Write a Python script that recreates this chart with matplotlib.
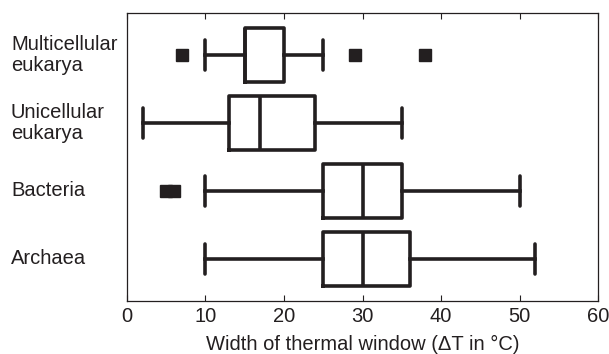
import matplotlib
matplotlib.use("Agg")
import matplotlib.pyplot as plt
import matplotlib.transforms as mtransforms

plt.rcParams['font.family'] = ['Liberation Sans', 'DejaVu Sans']

# groups, bottom to top
groups = ["Archaea", "Bacteria", "Unicellular\neukarya", "Multicellular\neukarya"]
q1 = [25, 25, 13, 15]
med = [30, 30, 17, 15]
q3 = [36, 35, 24, 20]
whislo = [10, 10, 2, 10]
whishi = [52, 50, 35, 25]
fliers = [[], [5, 6], [], [7, 29, 38]]

ink = '#231f20'

stats = []
for i in range(len(groups)):
    stats.append(dict(med=med[i], q1=q1[i], q3=q3[i],
                      whislo=whislo[i], whishi=whishi[i], fliers=fliers[i]))

fig = plt.figure(figsize=(6.09, 3.54), dpi=100)
ax = fig.add_axes([0.2085, 0.1497, 0.7735, 0.8136])

lw = 2.6
ax.bxp(stats, positions=[1, 2, 3, 4], orientation='horizontal', widths=0.8,
       capwidths=0.44, showfliers=True,
       boxprops=dict(color=ink, linewidth=lw),
       medianprops=dict(color=ink, linewidth=lw),
       whiskerprops=dict(color=ink, linewidth=lw),
       capprops=dict(color=ink, linewidth=lw, solid_capstyle='round'),
       flierprops=dict(marker='s', markersize=8.5, markerfacecolor=ink,
                       markeredgecolor=ink, linestyle='none'))

ax.set_xlim(0, 60)
ax.set_ylim(0.38, 4.62)
ax.set_xticks(range(0, 61, 10))
ax.set_yticks([])
ax.tick_params(axis='x', direction='in', top=True, length=4, width=0.8,
               labelsize=14.5, colors=ink, pad=4)
for s in ax.spines.values():
    s.set_color(ink)
    s.set_linewidth(0.9)

ax.set_xlabel("Width of thermal window (\u0394T in \u00b0C)", fontsize=14.5,
              color=ink, labelpad=6.5)

trans = mtransforms.blended_transform_factory(fig.transFigure, ax.transData)
for i, g in enumerate(groups):
    ax.text(11 / 609, i + 1, g, transform=trans, ha='left', va='center',
            fontsize=14.5, color=ink, linespacing=1.15)

fig.savefig("out.png", dpi=100)
